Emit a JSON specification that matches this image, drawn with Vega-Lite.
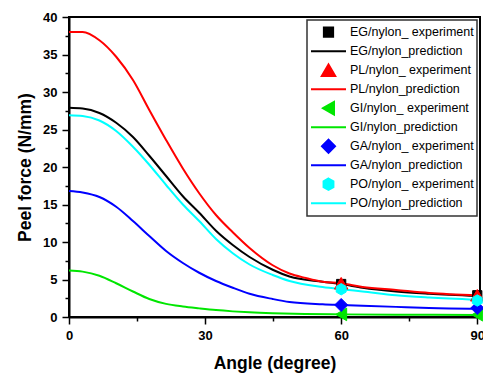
{
  "$schema": "https://vega.github.io/schema/vega-lite/v6.json",
  "width": 411,
  "height": 300,
  "autosize": {"type": "none"},
  "padding": {"left": 69, "top": 17, "right": 3, "bottom": 59},
  "data": {"values": [
    {"series": "EG/nylon_prediction", "kind": "p", "angle": 0, "force": 27.9},
    {"series": "EG/nylon_prediction", "kind": "p", "angle": 3, "force": 27.8},
    {"series": "EG/nylon_prediction", "kind": "p", "angle": 6.7, "force": 27.2},
    {"series": "EG/nylon_prediction", "kind": "p", "angle": 10.4, "force": 25.9},
    {"series": "EG/nylon_prediction", "kind": "p", "angle": 14.1, "force": 24.0},
    {"series": "EG/nylon_prediction", "kind": "p", "angle": 17.7, "force": 21.5},
    {"series": "EG/nylon_prediction", "kind": "p", "angle": 21.4, "force": 18.8},
    {"series": "EG/nylon_prediction", "kind": "p", "angle": 25.1, "force": 16.1},
    {"series": "EG/nylon_prediction", "kind": "p", "angle": 28.7, "force": 13.9},
    {"series": "EG/nylon_prediction", "kind": "p", "angle": 32.4, "force": 11.5},
    {"series": "EG/nylon_prediction", "kind": "p", "angle": 36.1, "force": 9.6},
    {"series": "EG/nylon_prediction", "kind": "p", "angle": 39.8, "force": 8.0},
    {"series": "EG/nylon_prediction", "kind": "p", "angle": 44.9, "force": 6.3},
    {"series": "EG/nylon_prediction", "kind": "p", "angle": 48.6, "force": 5.4},
    {"series": "EG/nylon_prediction", "kind": "p", "angle": 55.9, "force": 4.7},
    {"series": "EG/nylon_prediction", "kind": "p", "angle": 60, "force": 4.4},
    {"series": "EG/nylon_prediction", "kind": "p", "angle": 64.7, "force": 3.9},
    {"series": "EG/nylon_prediction", "kind": "p", "angle": 72.1, "force": 3.4},
    {"series": "EG/nylon_prediction", "kind": "p", "angle": 79.4, "force": 3.1},
    {"series": "EG/nylon_prediction", "kind": "p", "angle": 90, "force": 2.8},

    {"series": "PL/nylon_prediction", "kind": "p", "angle": 0, "force": 38.0},
    {"series": "PL/nylon_prediction", "kind": "p", "angle": 3, "force": 38.0},
    {"series": "PL/nylon_prediction", "kind": "p", "angle": 6.7, "force": 36.9},
    {"series": "PL/nylon_prediction", "kind": "p", "angle": 10.4, "force": 34.7},
    {"series": "PL/nylon_prediction", "kind": "p", "angle": 14.1, "force": 31.6},
    {"series": "PL/nylon_prediction", "kind": "p", "angle": 17.7, "force": 27.6},
    {"series": "PL/nylon_prediction", "kind": "p", "angle": 21.4, "force": 23.6},
    {"series": "PL/nylon_prediction", "kind": "p", "angle": 25.1, "force": 19.8},
    {"series": "PL/nylon_prediction", "kind": "p", "angle": 28.7, "force": 16.5},
    {"series": "PL/nylon_prediction", "kind": "p", "angle": 32.4, "force": 13.6},
    {"series": "PL/nylon_prediction", "kind": "p", "angle": 36.1, "force": 11.3},
    {"series": "PL/nylon_prediction", "kind": "p", "angle": 39.8, "force": 9.2},
    {"series": "PL/nylon_prediction", "kind": "p", "angle": 44.9, "force": 6.9},
    {"series": "PL/nylon_prediction", "kind": "p", "angle": 48.6, "force": 5.8},
    {"series": "PL/nylon_prediction", "kind": "p", "angle": 52.2, "force": 5.2},
    {"series": "PL/nylon_prediction", "kind": "p", "angle": 55.9, "force": 4.7},
    {"series": "PL/nylon_prediction", "kind": "p", "angle": 60, "force": 4.5},
    {"series": "PL/nylon_prediction", "kind": "p", "angle": 64.7, "force": 4.0},
    {"series": "PL/nylon_prediction", "kind": "p", "angle": 72.1, "force": 3.6},
    {"series": "PL/nylon_prediction", "kind": "p", "angle": 79.4, "force": 3.2},
    {"series": "PL/nylon_prediction", "kind": "p", "angle": 90, "force": 2.9},

    {"series": "GI/nylon_prediction", "kind": "p", "angle": 0, "force": 6.2},
    {"series": "GI/nylon_prediction", "kind": "p", "angle": 3, "force": 6.05},
    {"series": "GI/nylon_prediction", "kind": "p", "angle": 6.7, "force": 5.5},
    {"series": "GI/nylon_prediction", "kind": "p", "angle": 10.4, "force": 4.5},
    {"series": "GI/nylon_prediction", "kind": "p", "angle": 14.1, "force": 3.4},
    {"series": "GI/nylon_prediction", "kind": "p", "angle": 17.7, "force": 2.4},
    {"series": "GI/nylon_prediction", "kind": "p", "angle": 21.4, "force": 1.75},
    {"series": "GI/nylon_prediction", "kind": "p", "angle": 25.1, "force": 1.4},
    {"series": "GI/nylon_prediction", "kind": "p", "angle": 28.7, "force": 1.15},
    {"series": "GI/nylon_prediction", "kind": "p", "angle": 32.4, "force": 0.92},
    {"series": "GI/nylon_prediction", "kind": "p", "angle": 36.1, "force": 0.75},
    {"series": "GI/nylon_prediction", "kind": "p", "angle": 39.8, "force": 0.62},
    {"series": "GI/nylon_prediction", "kind": "p", "angle": 44.9, "force": 0.5},
    {"series": "GI/nylon_prediction", "kind": "p", "angle": 52, "force": 0.4},
    {"series": "GI/nylon_prediction", "kind": "p", "angle": 60, "force": 0.35},
    {"series": "GI/nylon_prediction", "kind": "p", "angle": 72, "force": 0.3},
    {"series": "GI/nylon_prediction", "kind": "p", "angle": 90, "force": 0.28},

    {"series": "GA/nylon_prediction", "kind": "p", "angle": 0, "force": 16.8},
    {"series": "GA/nylon_prediction", "kind": "p", "angle": 3, "force": 16.6},
    {"series": "GA/nylon_prediction", "kind": "p", "angle": 6.7, "force": 16.0},
    {"series": "GA/nylon_prediction", "kind": "p", "angle": 10.4, "force": 14.7},
    {"series": "GA/nylon_prediction", "kind": "p", "angle": 14.1, "force": 12.8},
    {"series": "GA/nylon_prediction", "kind": "p", "angle": 17.7, "force": 10.8},
    {"series": "GA/nylon_prediction", "kind": "p", "angle": 21.4, "force": 8.8},
    {"series": "GA/nylon_prediction", "kind": "p", "angle": 25.1, "force": 7.2},
    {"series": "GA/nylon_prediction", "kind": "p", "angle": 28.7, "force": 5.9},
    {"series": "GA/nylon_prediction", "kind": "p", "angle": 32.4, "force": 4.8},
    {"series": "GA/nylon_prediction", "kind": "p", "angle": 36.1, "force": 3.9},
    {"series": "GA/nylon_prediction", "kind": "p", "angle": 39.8, "force": 3.1},
    {"series": "GA/nylon_prediction", "kind": "p", "angle": 44.9, "force": 2.4},
    {"series": "GA/nylon_prediction", "kind": "p", "angle": 48.6, "force": 2.0},
    {"series": "GA/nylon_prediction", "kind": "p", "angle": 55.9, "force": 1.7},
    {"series": "GA/nylon_prediction", "kind": "p", "angle": 60, "force": 1.6},
    {"series": "GA/nylon_prediction", "kind": "p", "angle": 64.7, "force": 1.5},
    {"series": "GA/nylon_prediction", "kind": "p", "angle": 72.1, "force": 1.35},
    {"series": "GA/nylon_prediction", "kind": "p", "angle": 79.4, "force": 1.2},
    {"series": "GA/nylon_prediction", "kind": "p", "angle": 90, "force": 1.1},

    {"series": "PO/nylon_prediction", "kind": "p", "angle": 0, "force": 26.9},
    {"series": "PO/nylon_prediction", "kind": "p", "angle": 3, "force": 26.8},
    {"series": "PO/nylon_prediction", "kind": "p", "angle": 6.7, "force": 26.2},
    {"series": "PO/nylon_prediction", "kind": "p", "angle": 10.4, "force": 24.8},
    {"series": "PO/nylon_prediction", "kind": "p", "angle": 14.1, "force": 22.7},
    {"series": "PO/nylon_prediction", "kind": "p", "angle": 17.7, "force": 20.3},
    {"series": "PO/nylon_prediction", "kind": "p", "angle": 21.4, "force": 17.6},
    {"series": "PO/nylon_prediction", "kind": "p", "angle": 25.1, "force": 15.0},
    {"series": "PO/nylon_prediction", "kind": "p", "angle": 28.7, "force": 12.8},
    {"series": "PO/nylon_prediction", "kind": "p", "angle": 32.4, "force": 10.4},
    {"series": "PO/nylon_prediction", "kind": "p", "angle": 36.1, "force": 8.5},
    {"series": "PO/nylon_prediction", "kind": "p", "angle": 39.8, "force": 7.0},
    {"series": "PO/nylon_prediction", "kind": "p", "angle": 44.9, "force": 5.6},
    {"series": "PO/nylon_prediction", "kind": "p", "angle": 48.6, "force": 4.8},
    {"series": "PO/nylon_prediction", "kind": "p", "angle": 55.9, "force": 4.0},
    {"series": "PO/nylon_prediction", "kind": "p", "angle": 60, "force": 3.7},
    {"series": "PO/nylon_prediction", "kind": "p", "angle": 64.7, "force": 3.4},
    {"series": "PO/nylon_prediction", "kind": "p", "angle": 72.1, "force": 2.9},
    {"series": "PO/nylon_prediction", "kind": "p", "angle": 79.4, "force": 2.6},
    {"series": "PO/nylon_prediction", "kind": "p", "angle": 90, "force": 2.3},

    {"series": "EG/nylon_ experiment", "kind": "e", "angle": 60, "force": 4.4},
    {"series": "EG/nylon_ experiment", "kind": "e", "angle": 90, "force": 2.9},
    {"series": "PL/nylon_ experiment", "kind": "e", "angle": 60, "force": 4.5},
    {"series": "PL/nylon_ experiment", "kind": "e", "angle": 90, "force": 2.9},
    {"series": "GI/nylon_ experiment", "kind": "e", "angle": 60, "force": 0.35},
    {"series": "GI/nylon_ experiment", "kind": "e", "angle": 90, "force": 0.3},
    {"series": "GA/nylon_ experiment", "kind": "e", "angle": 60, "force": 1.6},
    {"series": "GA/nylon_ experiment", "kind": "e", "angle": 90, "force": 1.2},
    {"series": "PO/nylon_ experiment", "kind": "e", "angle": 60, "force": 3.7},
    {"series": "PO/nylon_ experiment", "kind": "e", "angle": 90, "force": 2.2}
  ]},
  "encoding": {
    "x": {
      "field": "angle", "type": "quantitative",
      "scale": {"domain": [0, 90.6], "nice": false, "zero": false},
      "axis": {
        "title": "Angle (degree)",
        "values": [0, 15, 30, 45, 60, 75, 90],
        "labelExpr": "datum.value % 30 === 0 ? datum.label : ''",
        "tickSize": {"condition": {"test": "datum.value % 30 === 0", "value": 7}, "value": 4},
        "labelPadding": 5,
        "titlePadding": 12,
        "labelFlush": false,
        "labelOverlap": false
      }
    },
    "y": {
      "field": "force", "type": "quantitative",
      "scale": {"domain": [0, 40], "nice": false},
      "axis": {
        "title": "Peel force (N/mm)",
        "values": [0, 2.5, 5, 7.5, 10, 12.5, 15, 17.5, 20, 22.5, 25, 27.5, 30, 32.5, 35, 37.5, 40],
        "labelExpr": "datum.value % 5 === 0 ? datum.label : ''",
        "tickSize": {"condition": {"test": "datum.value % 5 === 0", "value": 7}, "value": 4},
        "labelPadding": 5,
        "titlePadding": 8,
        "labelFlush": false,
        "labelOverlap": false
      }
    }
  },
  "layer": [
    {
      "transform": [{"filter": "datum.kind === 'p'"}],
      "mark": {"type": "line", "strokeWidth": 2, "interpolate": "monotone"},
      "encoding": {
        "stroke": {
          "field": "series", "type": "nominal", "title": null,
          "scale": {
            "domain": ["EG/nylon_ experiment", "EG/nylon_prediction", "PL/nylon_ experiment", "PL/nylon_prediction", "GI/nylon_ experiment", "GI/nylon_prediction", "GA/nylon_ experiment", "GA/nylon_prediction", "PO/nylon_ experiment", "PO/nylon_prediction"],
            "range": ["#000000", "#000000", "#ff0000", "#ff0000", "#00e600", "#00e600", "#0000ff", "#0000ff", "#00ffff", "#00ffff"]
          }
        }
      }
    },
    {
      "transform": [{"filter": "datum.kind === 'e'"}],
      "mark": {"type": "point", "filled": true, "opacity": 1, "strokeWidth": 1},
      "encoding": {
        "fill": {
          "field": "series", "type": "nominal", "title": null,
          "scale": {
            "domain": ["EG/nylon_ experiment", "EG/nylon_prediction", "PL/nylon_ experiment", "PL/nylon_prediction", "GI/nylon_ experiment", "GI/nylon_prediction", "GA/nylon_ experiment", "GA/nylon_prediction", "PO/nylon_ experiment", "PO/nylon_prediction"],
            "range": ["#000000", "#000000", "#ff0000", "#ff0000", "#00e600", "#00e600", "#0000ff", "#0000ff", "#00ffff", "#00ffff"]
          }
        },
        "stroke": {
          "field": "series", "type": "nominal", "title": null
        },
        "shape": {
          "field": "series", "type": "nominal", "title": null,
          "scale": {
            "domain": ["EG/nylon_ experiment", "EG/nylon_prediction", "PL/nylon_ experiment", "PL/nylon_prediction", "GI/nylon_ experiment", "GI/nylon_prediction", "GA/nylon_ experiment", "GA/nylon_prediction", "PO/nylon_ experiment", "PO/nylon_prediction"],
            "range": ["square", "stroke", "triangle-up", "stroke", "triangle-left", "stroke", "diamond", "stroke", "M0,-1L0.866,-0.5L0.866,0.5L0,1L-0.866,0.5L-0.866,-0.5Z", "stroke"]
          }
        },
        "size": {
          "field": "series", "type": "nominal", "title": null,
          "scale": {
            "type": "ordinal",
            "domain": ["EG/nylon_ experiment", "EG/nylon_prediction", "PL/nylon_ experiment", "PL/nylon_prediction", "GI/nylon_ experiment", "GI/nylon_prediction", "GA/nylon_ experiment", "GA/nylon_prediction", "PO/nylon_ experiment", "PO/nylon_prediction"],
            "range": [85, 1225, 180, 1225, 160, 1225, 170, 1225, 130, 1225]
          }
        }
      }
    }
  ],
  "config": {
    "font": "Liberation Sans",
    "view": {"stroke": "black", "strokeWidth": 2},
    "axis": {
      "grid": false,
      "domainColor": "black", "domainWidth": 2,
      "tickColor": "black", "tickWidth": 1.5,
      "labelColor": "black", "labelFont": "Liberation Sans", "labelFontSize": 13, "labelFontWeight": "bold",
      "titleColor": "black", "titleFont": "Liberation Sans", "titleFontSize": 17.5, "titleFontWeight": "bold"
    },
    "legend": {
      "orient": "top-right",
      "offset": 3,
      "padding": 3,
      "strokeColor": "#333333",
      "strokeWidth": 1.5,
      "clipHeight": 18.4,
      "rowPadding": 0,
      "labelFont": "Liberation Sans",
      "labelFontSize": 12.5,
      "labelColor": "black",
      "labelOffset": 3,
      "labelLimit": 0,
      "symbolStrokeWidth": 2,
      "symbolOpacity": 1
    }
  }
}
